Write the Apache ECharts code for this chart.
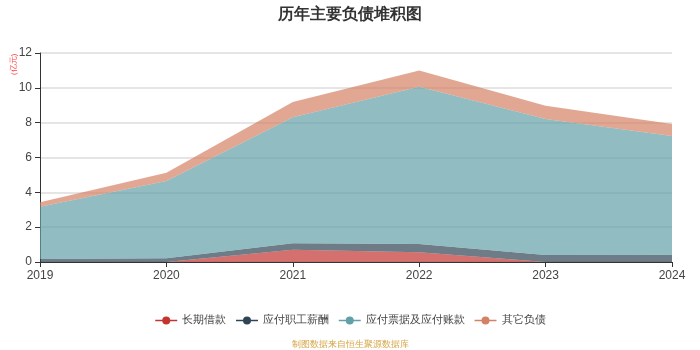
<!DOCTYPE html>
<html><head><meta charset="utf-8">
<script src="https://cdn.jsdelivr.net/npm/echarts@6/dist/echarts.min.js"></script>
<style>html,body{margin:0;padding:0;background:#fff}#c{width:700px;height:350px}</style>
</head><body><div id="c"></div>
<script>
const years = ['2019','2020','2021','2022','2023','2024'];
const longLoan = [0, 0, 0.71, 0.56, 0, 0];
const staffPay = [0.17, 0.22, 0.36, 0.47, 0.40, 0.42];
const payables = [3.0, 4.43, 7.24, 9.03, 7.81, 6.81];
const otherDebt = [0.26, 0.48, 0.87, 0.94, 0.76, 0.69];
const names = ['长期借款','应付职工薪酬','应付票据及应付账款','其它负债'];
const colors = ['#c23531','#2f4554','#61a0a8','#d48265'];
const datas = [longLoan, staffPay, payables, otherDebt];
const chart = echarts.init(document.getElementById('c'));
chart.setOption({
  animation:false,
  color: colors,
  title:{text:'历年主要负债堆积图',left:'center',top:2,textStyle:{fontSize:16,fontWeight:'bold',color:'#333'}},
  grid:{left:40,right:28,top:53,bottom:88},
  legend:{bottom:19,itemGap:9,itemWidth:22,itemHeight:10,textStyle:{fontSize:10.5,color:'#444'},
    lineStyle:{width:1.5,opacity:1},
    data:names.map((n,i)=>({name:n,lineStyle:{width:1.5,color:colors[i],opacity:1}}))},
  graphic:[
    {type:'text',left:'center',top:340,style:{text:'制图数据来自恒生聚源数据库',fill:'#d4a544',fontSize:9}},
    {type:'text',x:10,y:75,rotation:Math.PI/2,style:{text:'(亿元)',fill:'#ff4444',fontSize:8}}
  ],
  xAxis:{type:'category',data:years,boundaryGap:false,
    axisLine:{lineStyle:{color:'#333'}},axisTick:{show:true},
    axisLabel:{color:'#444',fontSize:12}},
  yAxis:{type:'value',min:0,max:12,interval:2,
    axisLine:{show:true,lineStyle:{color:'#333'}},axisTick:{show:true},
    axisLabel:{color:'#444',fontSize:12},
    splitLine:{lineStyle:{color:'#ddd',width:1.5}}},
  series: datas.map((d,i)=>({
    name:names[i],type:'line',stack:'total',data:d,
    symbol:'circle',symbolSize:8,showSymbol:false,
    lineStyle:{width:0},
    areaStyle:{opacity:0.7}
  }))
});
</script></body></html>
